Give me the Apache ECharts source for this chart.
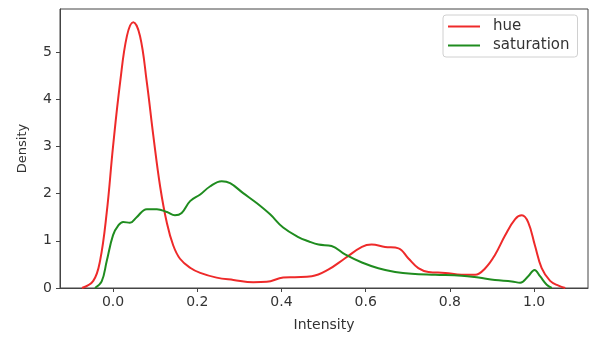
<!DOCTYPE html>
<html>
<head>
<meta charset="utf-8">
<script src="https://cdn.jsdelivr.net/npm/echarts@6/dist/echarts.min.js"></script>
<style>
  html, body { margin: 0; padding: 0; background: #fff; }
  #kde { width: 595px; height: 337px; }
</style>
</head>
<body>
<div id="kde"></div>
<script>
// density curves
var hueX = [-0.074, -0.047, -0.031, -0.015, 0.0, 0.017, 0.033, 0.048, 0.064, 0.080, 0.096, 0.112, 0.128, 0.143, 0.159, 0.183, 0.207, 0.246, 0.286, 0.333, 0.365, 0.404, 0.432, 0.472, 0.511, 0.551, 0.591, 0.614, 0.646, 0.678, 0.701, 0.725, 0.749, 0.789, 0.828, 0.860, 0.884, 0.907, 0.931, 0.955, 0.971, 0.986, 1.002, 1.018, 1.038, 1.058, 1.074];
var hueY = [0, 0.15, 0.57, 1.6, 3.0, 4.37, 5.34, 5.63, 5.34, 4.37, 3.2, 2.14, 1.37, 0.9, 0.62, 0.43, 0.32, 0.22, 0.17, 0.12, 0.13, 0.22, 0.23, 0.25, 0.39, 0.63, 0.87, 0.92, 0.87, 0.84, 0.63, 0.42, 0.34, 0.32, 0.28, 0.28, 0.42, 0.70, 1.11, 1.46, 1.54, 1.39, 0.90, 0.42, 0.15, 0.05, 0];

var satX = [-0.043, -0.027, -0.015, 0.0, 0.013, 0.024, 0.040, 0.056, 0.080, 0.104, 0.128, 0.147, 0.163, 0.183, 0.207, 0.230, 0.258, 0.278, 0.309, 0.341, 0.373, 0.404, 0.440, 0.464, 0.488, 0.519, 0.551, 0.591, 0.630, 0.670, 0.709, 0.765, 0.828, 0.868, 0.907, 0.947, 0.967, 0.986, 1.001, 1.014, 1.030, 1.042];
var satY = [0, 0.14, 0.57, 1.12, 1.33, 1.40, 1.38, 1.50, 1.67, 1.67, 1.61, 1.54, 1.59, 1.84, 1.98, 2.15, 2.26, 2.22, 2.01, 1.80, 1.56, 1.28, 1.08, 0.99, 0.92, 0.89, 0.71, 0.54, 0.42, 0.34, 0.30, 0.28, 0.26, 0.22, 0.17, 0.14, 0.11, 0.25, 0.38, 0.25, 0.07, 0];

var xTicks = [0, 0.2, 0.4, 0.6, 0.8, 1.0];
var yTicks = [0, 1, 2, 3, 4, 5];

function pairs(xs, ys) {
  return xs.map(function (x, i) { return [x, ys[i]]; });
}

var chartDom = document.getElementById('kde');
var myChart = echarts.init(chartDom, null, { renderer: 'canvas', devicePixelRatio: 1 });
var font = 'DejaVu Sans';

var option = {
  animation: false,
  textStyle: { fontFamily: font },
  grid: {
    left: 60, top: 9, right: 7, bottom: 43,
    show: true, borderColor: '#444', borderWidth: 1
  },
  legend: {
    left: 443, top: 15,
    orient: 'vertical',
    padding: [4, 8, 4, 5],
    itemGap: 4,
    itemWidth: 32, itemHeight: 2,
    icon: 'rect',
    borderColor: '#d0d0d0', borderWidth: 1, borderRadius: 3,
    textStyle: { fontFamily: font, fontSize: 15, color: '#333', padding: [0, 0, 0, 8] },
    data: ['hue', 'saturation']
  },
  xAxis: {
    type: 'value',
    min: -0.126, max: 1.128,
    name: 'Intensity',
    nameLocation: 'middle',
    nameGap: 30,
    nameTextStyle: { fontFamily: font, fontSize: 14, color: '#333' },
    splitLine: { show: false },
    axisLine: { onZero: false, lineStyle: { color: '#444' } },
    axisTick: { length: 4, customValues: xTicks, lineStyle: { color: '#444' } },
    axisLabel: {
      customValues: xTicks,
      fontFamily: font, fontSize: 14, color: '#333', margin: 7,
      formatter: function (v) { return v.toFixed(1); }
    }
  },
  yAxis: {
    type: 'value',
    min: 0, max: 5.91,
    name: 'Density',
    nameLocation: 'middle',
    nameGap: 31,
    nameTextStyle: { fontFamily: font, fontSize: 13, color: '#333' },
    splitLine: { show: false },
    axisLine: { show: true, onZero: false, lineStyle: { color: '#444' } },
    axisTick: { show: true, length: 4, customValues: yTicks, lineStyle: { color: '#444' } },
    axisLabel: {
      customValues: yTicks,
      fontFamily: font, fontSize: 14, color: '#333', margin: 8
    }
  },
  series: [
    {
      name: 'hue', type: 'line', smooth: 0.4, showSymbol: false,
      color: '#ee2a2a',
      lineStyle: { width: 2, color: '#ee2a2a' },
      data: pairs(hueX, hueY)
    },
    {
      name: 'saturation', type: 'line', smooth: 0.4, showSymbol: false,
      color: '#1f8c1f',
      lineStyle: { width: 2, color: '#1f8c1f' },
      data: pairs(satX, satY)
    }
  ]
};

option && myChart.setOption(option);
</script>
</body>
</html>
